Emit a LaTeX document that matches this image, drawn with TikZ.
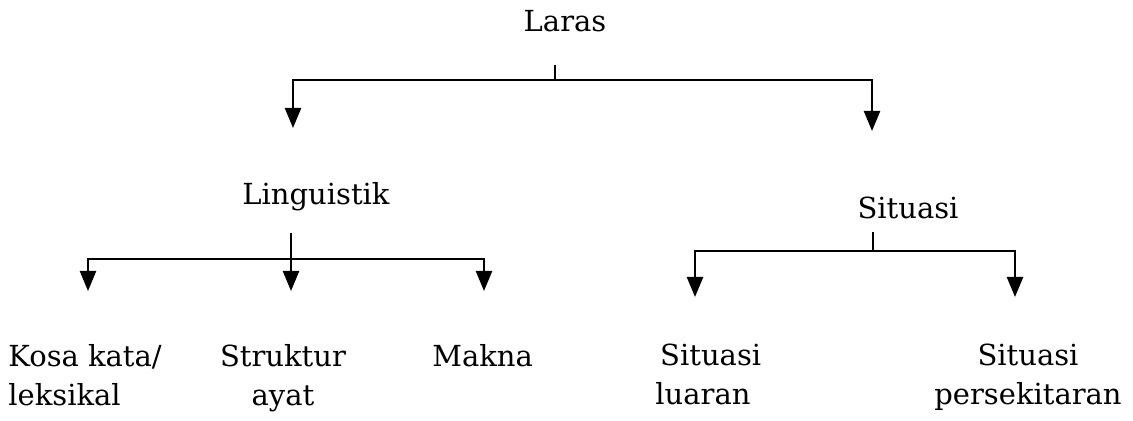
\documentclass[tikz,border=0pt]{standalone}
\usepackage{fontspec}
\setmainfont{DejaVu Serif}
\usetikzlibrary{arrows.meta}
\begin{document}
\begin{tikzpicture}[x=0.5pt,y=-0.5pt,
  lbl/.style={inner sep=0pt, font=\fontsize{14.5}{19.5}\selectfont},
  plain/.style={line width=1.2pt},
  arr/.style={line width=1.2pt, -{Triangle[width=8pt,length=10pt]}}]
\useasboundingbox (0,0) rectangle (1133,421);
% labels
\node[lbl, anchor=base] (laras) at (565,32) {Laras};
\node[lbl, anchor=base] (ling) at (316,205) {Linguistik};
\node[lbl, anchor=base] (sit) at (908,219) {Situasi};
\node[lbl, anchor=north west, align=left] (kosa) at (8,344) {Kosa kata/\\leksikal};
\node[lbl, anchor=north, align=center] (struk) at (283,344) {Struktur\\ayat};
\node[lbl, anchor=north west] (makna) at (432,344) {Makna};
\node[lbl, anchor=north west, align=left] (sluar) at (655,344) {\,Situasi\\luaran};
\node[lbl, anchor=north, align=center] (ssek) at (1028,344) {Situasi\\persekitaran};
% stem tops, junctions and arrow tips
\coordinate (s0) at (555,65);
\coordinate (j0) at (555,80);
\coordinate (tl) at (293,128);
\coordinate (tr) at (872,131);
\coordinate (s1) at (291,233);
\coordinate (j1) at (291,259);
\coordinate (a1) at (88,291);
\coordinate (a2) at (291,291);
\coordinate (a3) at (484,291);
\coordinate (s2) at (873,232);
\coordinate (j2) at (873,251);
\coordinate (b1) at (695,297);
\coordinate (b2) at (1015,297);
% level 1
\draw[plain] (s0) -- (j0);
\draw[arr] (j0) -| (tl);
\draw[arr] (j0) -| (tr);
% level 2 left
\draw[plain] (s1) -- (j1);
\draw[arr] (j1) -| (a1);
\draw[arr] (j1) -- (a2);
\draw[arr] (j1) -| (a3);
% level 2 right
\draw[plain] (s2) -- (j2);
\draw[arr] (j2) -| (b1);
\draw[arr] (j2) -| (b2);
\end{tikzpicture}
\end{document}
